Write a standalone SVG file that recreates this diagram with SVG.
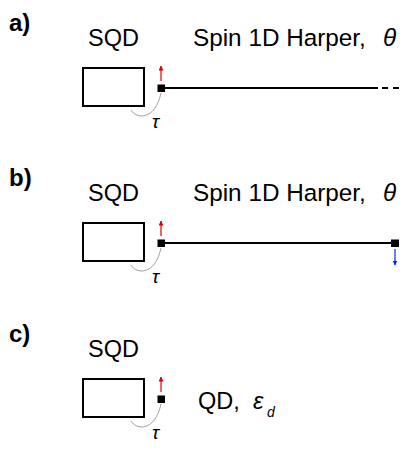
<svg xmlns="http://www.w3.org/2000/svg" width="414" height="450" viewBox="0 0 414 450">
<defs>
<style>
text{font-family:"Liberation Sans",Arial,sans-serif;fill:#000}
.lbl{font-size:24px;font-weight:bold}
.t{font-size:23.5px}
.s{font-size:24.3px}
.g{font-style:italic}
.tau{font-size:19px;font-style:italic}
.box{fill:#fff;stroke:#000;stroke-width:2}
.site{fill:#000}
.wire{stroke:#000;stroke-width:2;fill:none}
.hop{stroke:#a0a0a0;stroke-width:1;fill:none}
.up{stroke:#e00000;stroke-width:1.2;marker-end:url(#ar)}
.dn{stroke:#0020ff;stroke-width:1.2;marker-end:url(#ab)}
</style>
<marker id="ar" viewBox="0 0 10 10" refX="9" refY="5" markerWidth="5" markerHeight="5" orient="auto" markerUnits="userSpaceOnUse"><path d="M0,0L10,5L0,10z" fill="#e00000"/></marker>
<marker id="ab" viewBox="0 0 10 10" refX="9" refY="5" markerWidth="5" markerHeight="5" orient="auto" markerUnits="userSpaceOnUse"><path d="M0,0L10,5L0,10z" fill="#0020ff"/></marker>
</defs>

<g id="panel-a">
<text class="lbl" x="9" y="31">a)</text>
<g id="a-sqd"><text class="t" x="88" y="46">SQD</text><rect class="box" x="83" y="68" width="61" height="38"/></g>
<g id="a-site"><rect class="site" x="157.5" y="84.5" width="7.5" height="7.5"/></g>
<g id="a-chain"><text class="s" x="193" y="46">Spin 1D Harper,</text><text class="s g" x="383" y="46">θ</text></g>
<g id="a-connectors">
<line class="wire" x1="165" y1="88" x2="378" y2="88"/>
<line class="wire" x1="382" y1="88" x2="388" y2="88"/>
<line class="wire" x1="393" y1="88" x2="399" y2="88"/>
<line class="up" x1="161" y1="81" x2="161" y2="66"/>
<path class="hop" d="M131,110 C136,119 155,121 161,93"/>
</g>
<text class="tau" x="152" y="128">τ</text>
</g>

<g id="panel-b">
<text class="lbl" x="9" y="186">b)</text>
<g id="b-sqd"><text class="t" x="88" y="201">SQD</text><rect class="box" x="83" y="223" width="61" height="38"/></g>
<g id="b-site"><rect class="site" x="157.5" y="239.5" width="7.5" height="7.5"/></g>
<g id="b-end"><rect class="site" x="391" y="239.5" width="8" height="7.5"/></g>
<g id="b-chain"><text class="s" x="193" y="201">Spin 1D Harper,</text><text class="s g" x="383" y="201">θ</text></g>
<g id="b-connectors">
<line class="wire" x1="165" y1="243" x2="391" y2="243"/>
<line class="up" x1="161" y1="236" x2="161" y2="221"/>
<line class="dn" x1="395" y1="249" x2="395" y2="265"/>
<path class="hop" d="M131,265 C136,274 155,276 161,248"/>
</g>
<text class="tau" x="152" y="283">τ</text>
</g>

<g id="panel-c">
<text class="lbl" x="9" y="342">c)</text>
<g id="c-sqd"><text class="t" x="88" y="357">SQD</text><rect class="box" x="83" y="379" width="61" height="38"/></g>
<g id="c-site"><rect class="site" x="157.5" y="395.5" width="7.5" height="7.5"/></g>
<g id="c-qd"><text class="t" x="198" y="409">QD,</text><text class="t g" x="253" y="409">ε</text><text class="g" x="267" y="417" style="font-size:14px">d</text></g>
<g id="c-connectors">
<line class="up" x1="161" y1="392" x2="161" y2="377"/>
<path class="hop" d="M131,421 C136,430 155,432 161,404"/>
</g>
<text class="tau" x="152" y="439">τ</text>
</g>
</svg>
